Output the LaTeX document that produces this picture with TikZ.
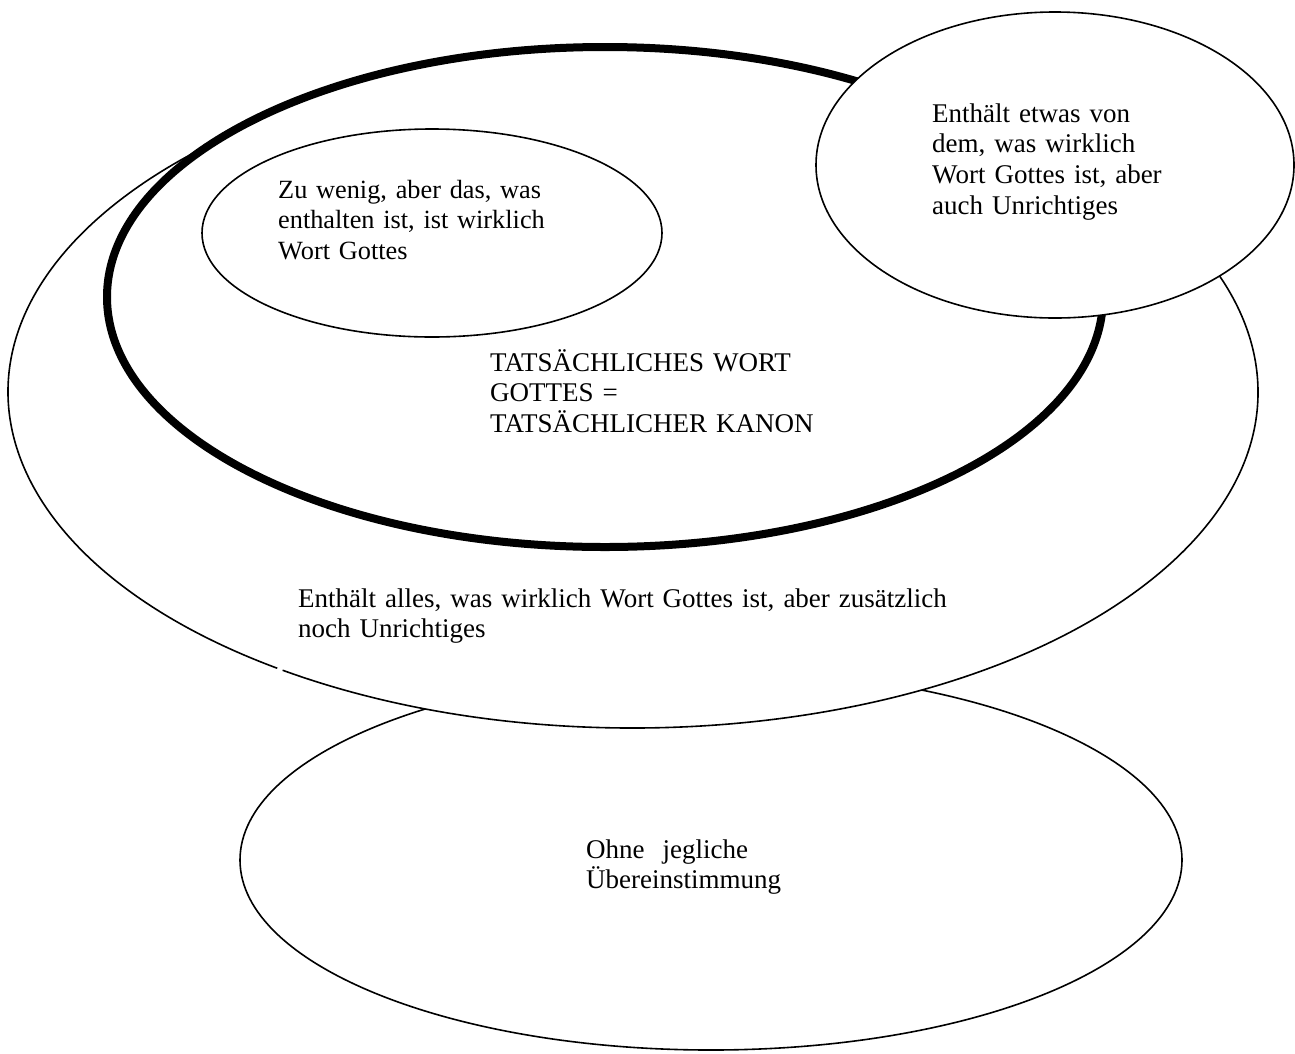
\documentclass[tikz,border=0pt]{standalone}
\usepackage{fontspec}
\setmainfont{Liberation Serif}
\begin{document}
\begin{tikzpicture}[x=1pt,y=-1pt,
  venn/.style={draw=black, line width=1.6pt, fill=white},
  thinline/.style={draw=black, line width=1.6pt},
  canon/.style={draw=black, line width=8pt, fill=white},
  lbl/.style={anchor=base west, inner sep=0pt, text width=#1, align=left,
    font=\fontsize{27}{30.8}\selectfont}]
\useasboundingbox (0,0) rectangle (1295,1053);
\fill[white] (0,0) rectangle (1295,1053);
% bottom ellipse
\draw[venn] (711,860) ellipse[x radius=471, y radius=190];
% large outer ellipse (with the small gap at lower left)
\fill[white] (633,392) ellipse[x radius=625, y radius=336];
\draw[thinline] (633,392) ++(124.7:625 and 336)
  arc[start angle=124.7, end angle=484.1, x radius=625, y radius=336];
% thick canon ellipse
\draw[canon] (605,297) ellipse[x radius=498, y radius=250];
% small inner ellipse
\draw[venn] (432,233) ellipse[x radius=230, y radius=104];
% top right ellipse
\draw[venn] (1055,165) ellipse[x radius=239, y radius=153];
% labels
\node[lbl=360pt, font=\fontsize{26.3}{30.5}\selectfont] (tzu) at (278,198) {Zu wenig, aber das, was\\enthalten ist, ist wirklich\\Wort Gottes};
\node[lbl=330pt] (tetw) at (932,122) {Enthält etwas von\\dem, was wirklich\\Wort Gottes ist, aber\\auch Unrichtiges};
\node[lbl=420pt] (ttat) at (490,371) {TATSÄCHLICHES WORT\\GOTTES =\\TATSÄCHLICHER KANON};
\node[lbl=760pt] (tall) at (298,607) {Enthält alles, was wirklich Wort Gottes ist, aber zusätzlich\\noch Unrichtiges};
\node[lbl=320pt] (tohne) at (586,858) {Ohne\ \ jegliche\\Übereinstimmung};
\end{tikzpicture}
\end{document}
